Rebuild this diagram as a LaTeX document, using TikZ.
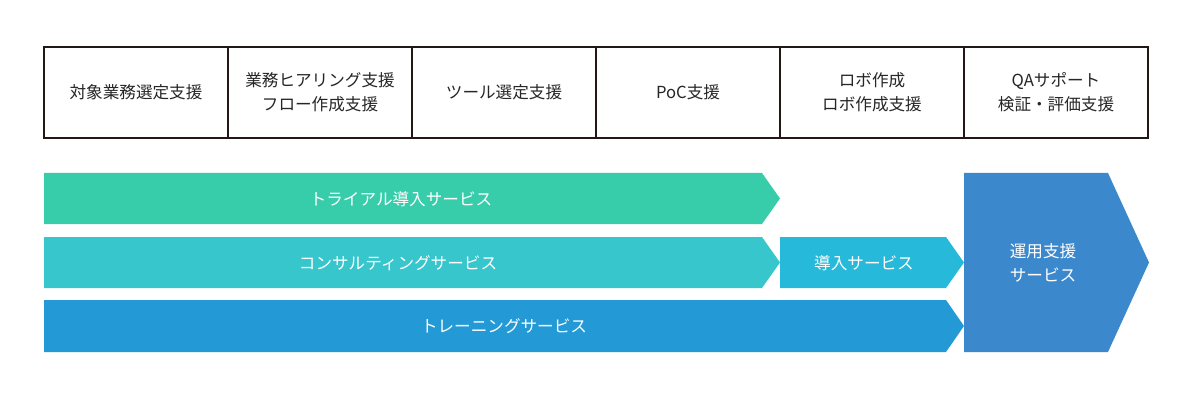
\documentclass[tikz,border=0pt]{standalone}
\usepackage{fontspec}
\setmainfont{Noto Sans CJK JP}
\definecolor{frame}{HTML}{231815}
\definecolor{cA}{HTML}{37CDAB}
\definecolor{cB}{HTML}{37C6CC}
\definecolor{cC}{HTML}{27B9DA}
\definecolor{cD}{HTML}{2399D6}
\definecolor{cE}{HTML}{3B89CC}
\begin{document}
\begin{tikzpicture}[x=1pt,y=-1pt,
  topbox/.style={draw=frame,line width=2.6pt,minimum width=184pt,minimum height=91pt,inner sep=0pt,align=center,font=\fontsize{16.6}{24}\selectfont,text=black!85},
  lbl/.style={text=white,align=center,font=\fontsize{16.6}{24}\selectfont}]
\useasboundingbox (0,0) rectangle (1200,401);
\fill[white] (0,0) rectangle (1200,401);
% top boxes
\node[topbox] (t1) at (136,92.5) {対象業務選定支援};
\node[topbox] (t2) at (320,92.5) {業務ヒアリング支援\\フロー作成支援};
\node[topbox] (t3) at (504,92.5) {ツール選定支援};
\node[topbox] (t4) at (688,92.5) {PoC支援};
\node[topbox] (t5) at (872,92.5) {ロボ作成\\ロボ作成支援};
\node[topbox] (t6) at (1056,92.5) {QAサポート\\検証・評価支援};
% arrows
\fill[cA] (44,173) -- (762,173) -- (780,198.5) -- (762,224) -- (44,224) -- cycle;
\fill[cB] (44,237) -- (762,237) -- (780,262.5) -- (762,288) -- (44,288) -- cycle;
\fill[cC] (780,237) -- (946,237) -- (964,262.5) -- (946,288) -- (780,288) -- cycle;
\fill[cD] (44,300) -- (946,300) -- (964,326) -- (946,352) -- (44,352) -- cycle;
\fill[cE] (964,173) -- (1108,173) -- (1149,262.5) -- (1108,352) -- (964,352) -- cycle;
\node[lbl] (a1) at (401,199) {トライアル導入サービス};
\node[lbl] (a2) at (398,263) {コンサルティングサービス};
\node[lbl] (a3) at (864,263) {導入サービス};
\node[lbl] (a4) at (504,326) {トレーニングサービス};
\node[lbl] (a5) at (1043,263) {運用支援\\サービス};
\end{tikzpicture}
\end{document}
